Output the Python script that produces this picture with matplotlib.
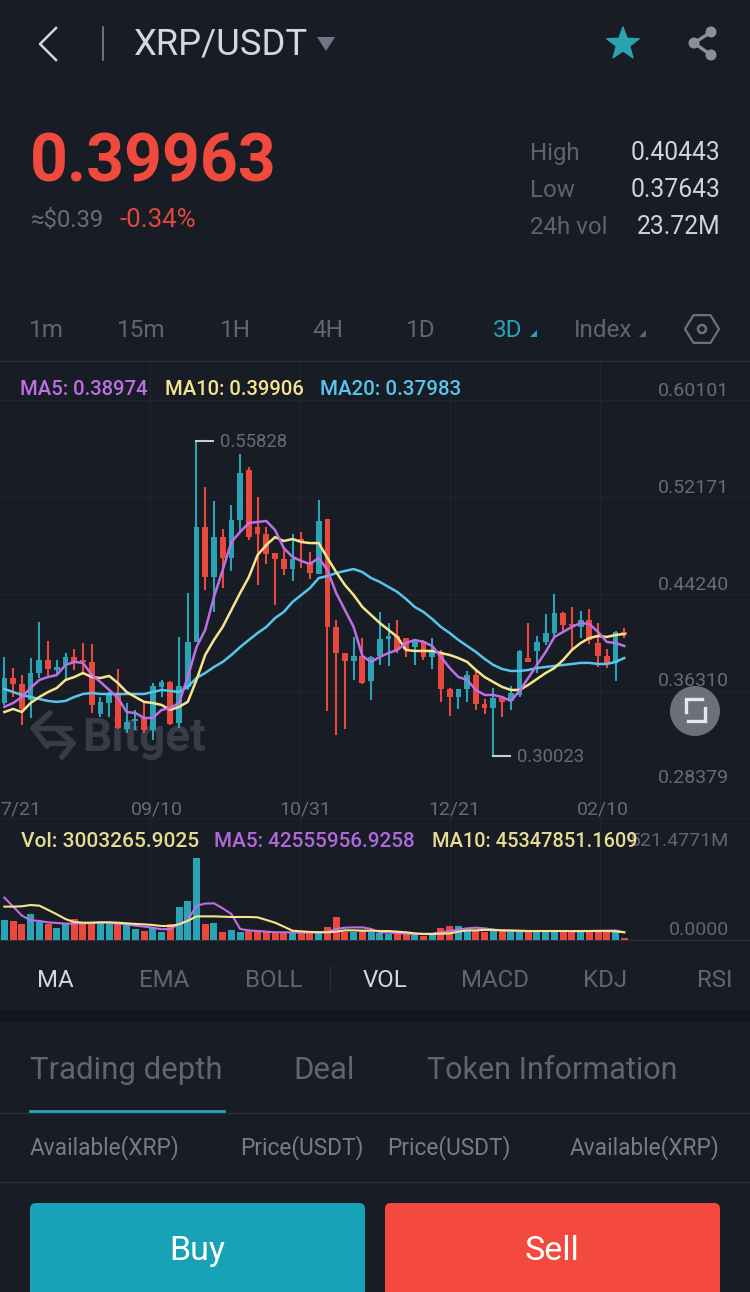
import matplotlib
matplotlib.use("Agg")
import matplotlib.pyplot as plt
from matplotlib.patches import FancyBboxPatch, Circle, Polygon
import numpy as np

plt.rcParams['font.family'] = ['Roboto', 'DejaVu Sans']

# ---------- data ----------
opens = [.3437,.3642,.3593,.3462,.3683,.3790,.3708,.3749,.3815,.3782,.3774,.3347,.3437,.3503,.3224,.3290,.3314,.3216,.3569,.3609,
         .3273,.3569,.3938,.4880,.4470,.4798,.4627,.4938,.5348,.4880,.4823,.4667,.4618,.4536,.4774,.4585,.4495,.4946,.4061,.3847,
         .3782,.3823,.3618,.3823,.3962,.3987,.3970,.3896,.3946,.3815,.3856,.3552,.3486,.3552,.3667,.3429,.3396,.3478,.3454,.3503,
         .3806,.3864,.3938,.4011,.4175,.4077,.4061,.4118,.3929,.3823,.3766,.4020]
highs = [.3815,.3724,.3667,.3806,.4102,.3946,.3790,.3847,.3880,.3929,.3921,.3486,.3527,.3716,.3437,.3380,.3437,.3601,.3626,.3618,
         .3979,.4339,.55828,.5209,.5094,.4864,.5061,.5479,.5373,.5127,.4880,.4667,.4692,.4823,.4840,.4676,.5102,.4946,.4118,.3847,
         .3979,.3970,.3823,.4184,.4093,.4118,.3970,.3962,.3954,.3970,.3872,.3560,.3552,.3700,.3700,.3470,.3560,.3478,.3577,.3872,
         .4093,.3987,.4167,.4331,.4184,.4225,.4192,.4208,.4093,.3880,.4028,.4052]
lows  = [.3421,.3486,.3257,.3314,.3642,.3642,.3675,.3626,.3708,.3667,.3355,.3322,.3322,.3224,.3191,.3216,.3191,.3134,.3486,.3257,
         .3232,.3544,.3935,.4364,.4184,.4380,.4520,.4840,.4774,.4405,.4577,.4241,.4487,.4438,.4544,.4454,.4495,.3372,.3175,.3224,
         .3626,.3593,.3462,.3749,.3741,.3847,.3815,.3749,.3790,.3716,.3446,.3331,.3388,.3446,.3380,.3347,.30023,.3322,.3380,.3486,
         .3774,.3683,.3913,.3979,.4020,.3872,.3970,.3921,.3732,.3724,.3618,.3970]
closes = [.3642,.3593,.3388,.3683,.3790,.3716,.3732,.3815,.3774,.3774,.3421,.3446,.3503,.3232,.3281,.3306,.3216,.3577,.3609,.3265,
          .3577,.3938,.4880,.4470,.4798,.4627,.4938,.5324,.4798,.4823,.4659,.4618,.4536,.4618,.4766,.4503,.4930,.4061,.3847,.3782,
          .3823,.3601,.3815,.3962,.3987,.3872,.3872,.3946,.3815,.3872,.3552,.3486,.3552,.3667,.3429,.3396,.3478,.3446,.3519,.3864,
          .3774,.3938,.4011,.4175,.4077,.4069,.4118,.3954,.3823,.3766,.4020,.39963]
ma5 = [.3405,.3437,.3486,.3560,.3626,.3650,.3667,.3749,.3774,.3766,.3667,.3609,.3544,.3478,.3363,.3355,.3314,.3314,.3380,.3396,
       .3437,.3650,.3896,.4036,.4306,.4528,.4758,.4840,.4914,.4922,.4930,.4856,.4708,.4635,.4602,.4577,.4627,.4528,.4339,.4200,
       .4061,.3823,.3774,.3815,.3847,.3872,.3929,.3954,.3938,.3905,.3815,.3724,.3650,.3626,.3544,.3503,.3503,.3486,.3454,.3536,
       .3642,.3749,.3856,.3979,.4020,.4061,.4093,.4085,.4020,.3938,.3929,.3905]
ma10 = [.3363,.3388,.3363,.3437,.3486,.3527,.3560,.3626,.3650,.3683,.3650,.3642,.3659,.3601,.3527,.3486,.3446,.3437,.3421,.3380,
        .3405,.3446,.3626,.3831,.3954,.4061,.4200,.4339,.4470,.4651,.4733,.4798,.4766,.4782,.4758,.4749,.4749,.4627,.4511,.4405,
        .4323,.4225,.4159,.4093,.4036,.3979,.3872,.3864,.3864,.3864,.3847,.3831,.3806,.3774,.3708,.3650,.3609,.3569,.3544,.3544,
        .3585,.3634,.3683,.3724,.3790,.3872,.3929,.3970,.3987,.3979,.3995,.4003]
ma20 = [.3552,.3527,.3503,.3486,.3470,.3454,.3446,.3454,.3486,.3511,.3519,.3511,.3511,.3511,.3511,.3511,.3511,.3527,.3544,.3536,
        .3527,.3569,.3642,.3683,.3732,.3774,.3831,.3896,.3954,.4011,.4061,.4134,.4184,.4266,.4323,.4380,.4462,.4479,.4503,.4520,
        .4536,.4511,.4462,.4430,.4389,.4348,.4290,.4225,.4184,.4126,.4061,.4011,.3954,.3905,.3856,.3799,.3749,.3716,.3700,.3700,
        .3708,.3724,.3732,.3741,.3749,.3757,.3766,.3766,.3757,.3757,.3774,.3806]
volume = [127,121,99.5,167,116,104,78,99.5,133,104,116,110,110,102,95,70,57,74,53,99.5,
          210,246,521.5,104,108,51,64,53,57,64,49,49,47,44,42,42,49,83,144,53,
          49,57,53,42,38,36,36,32,28,32,78,91,89,57,57,49,57,57,53,57,
          57,53,53,53,57,53,53,57,64,61,64,14]
vol_ma5 = [269,212,155,125,121,112,108,104,104,106,108,112,110,104,99.5,91,85,78,68,70,
           99.5,127,218,231,233,201,165,70,61,57,53,49,49,49,47,47,49,51,70,78,
           80,80,70,49,47,44,40,38,40,40,49,57,66,74,78,74,66,61,57,57,
           55,57,57,57,57,55,55,57,59,59,61,49]
vol_ma10 = [212,212,214,222,218,191,163,133,114,110,110,112,112,110,106,102,99.5,95,89,89,
            99.5,121,150,150,150,148,146,146,146,144,127,110,85,59,55,51,49,49,53,61,
            61,59,59,57,57,53,49,42,38,38,40,42,53,61,61,64,64,61,61,59,
            57,57,57,57,57,57,57,57,57,57,55,49]
price_ticks = [0.60101, 0.52171, 0.44240, 0.36310, 0.28379]
price_tick_labels = ["0.60101", "0.52171", "0.44240", "0.36310", "0.28379"]
date_pos = [-0.42, 17.5, 34.5, 51.5, 68.5]
date_labels = ["7/21", "09/10", "10/31", "12/21", "02/10"]
date_align = ["left", "center", "center", "center", "center"]

# ---------- palette ----------
BG = "#181c25"; GRID = "#1f242d"; LINE = "#2a2f39"; DARK = "#12151b"
TEAL = "#2aa3b5"; RED = "#e9493d"; PURPLE = "#bd6fe6"; YELLOW = "#f6e48e"; BLUE = "#57c6ee"
GREY = "#5f6673"; LIGHT = "#d3d7e0"; AXIS = "#656b77"

W, H = 750, 1292
fig = plt.figure(figsize=(W/100, H/100), dpi=100, facecolor=BG)
ui = fig.add_axes([0, 0, 1, 1], facecolor=BG)
ui.set_xlim(0, W); ui.set_ylim(H, 0); ui.axis("off")

def put(x, y, s, fontsize, **kw):
    kw.setdefault("va", "center")
    kw.setdefault("ha", "left")
    return ui.text(x, y + 0.125*fontsize, s, fontsize=fontsize, **kw)

def rect_axes(top, bottom):
    ax = fig.add_axes([0, 1-bottom/H, 1, (bottom-top)/H])
    ax.patch.set_alpha(0); ax.axis("off")
    ax.set_xlim(-0.504, 85.4)
    return ax

# ---------- ui: grid and separators ----------
for gx in [150, 300, 450, 600]:
    ui.plot([gx, gx], [361, 940], color=GRID, lw=0.8, zorder=1)
for gy in [400, 497, 594, 691, 818]:
    ui.plot([0, W], [gy, gy], color=GRID, lw=0.8, zorder=1)
for gy in [361, 940]:
    ui.plot([0, W], [gy, gy], color=LINE, lw=0.9, zorder=1)

# watermark
wm = "#383c47"
ui.plot([50, 33, 47], [713, 728, 746], color=wm, lw=4, zorder=1, solid_capstyle="round", solid_joinstyle="round")
ui.plot([33, 70], [728, 728], color=wm, lw=3.6, zorder=1, solid_capstyle="round")
ui.plot([56, 73, 62], [728, 743, 757], color=wm, lw=4, zorder=1, solid_capstyle="round", solid_joinstyle="round")
ui.plot([44, 73], [743, 743], color=wm, lw=3.6, zorder=1, solid_capstyle="round")
put(82, 734, "Bitget", 33, fontweight="bold", color=wm, zorder=1)

# header
ui.plot([56, 40, 56], [28, 44, 60], color=LIGHT, lw=1.8)
ui.plot([103, 103], [27, 60], color="#7c8290", lw=1.2)
put(134, 41, "XRP/USDT", 26.2, color=LIGHT)
ui.add_patch(Polygon([[317, 37], [335, 37], [326, 51]], closed=True, fc="#6f7787", ec="none"))
star_a = np.deg2rad(np.arange(10)*36 - 90)
star_r = np.where(np.arange(10) % 2 == 0, 17, 7)
ui.add_patch(Polygon(np.c_[623+star_r*np.cos(star_a), 44+star_r*np.sin(star_a)], closed=True, fc=TEAL, ec=TEAL, lw=1, joinstyle="round"))
sh = "#8a8f9b"
ui.plot([711, 694, 711], [32, 43, 55], color=sh, lw=2.4)
for sx, sy in [(711, 32), (694, 43), (711, 55)]:
    ui.add_patch(Circle((sx, sy), 5.5, fc=sh, ec="none"))

# price
put(30, 158, "0.39963", 47.6, fontweight="bold", color="#f04a3e")
put(31, 218, "≈$0.39", 17.2, color="#666d79")
put(119, 218, "-0.34%", 18.6, color="#e0483d")
for yy, lab, val in [(151, "High", "0.40443"), (188, "Low", "0.37643"), (225, "24h vol", "23.72M")]:
    put(530, yy, lab, 17.3, color="#5d6471")
    put(720, yy, val, 17.8, color="#cfd3dc", ha="right")

# interval tabs
for cx, lab in [(46, "1m"), (141, "15m"), (235, "1H"), (328, "4H"), (421, "1D"), (603, "Index")]:
    put(cx, 328, lab, 17.5, color=GREY, ha="center")
put(508, 328, "3D", 17.5, color=TEAL, ha="center")
ui.add_patch(Polygon([[530, 337], [537, 337], [537, 330]], closed=True, fc=TEAL, ec="none"))
ui.add_patch(Polygon([[639, 337], [646, 337], [646, 330]], closed=True, fc=GREY, ec="none"))
hex_a = np.deg2rad(np.arange(6)*60)
ui.add_patch(Polygon(np.c_[702+17*np.cos(hex_a), 329+16*np.sin(hex_a)], closed=True, fc="none", ec="#6b7280", lw=1.6, joinstyle="round"))
ui.add_patch(Circle((702, 329), 4, fc="none", ec="#6b7280", lw=1.8))

# legends
for lx, txt, col, fs in [(20, "MA5: 0.38974", PURPLE, 14.6), (165, "MA10: 0.39906", YELLOW, 14.6), (320, "MA20: 0.37983", BLUE, 14.8)]:
    put(lx, 388, txt, fs, fontweight="medium", color=col)
put(729, 839, "521.4771M", 14, color=GREY, ha="right")
for lx, txt, col, fs in [(21, "Vol: 3003265.9025", "#e7dc90", 15), (214, "MA5: 42555956.9258", "#b268dc", 14.9), (432, "MA10: 45347851.1609", "#e7dc90", 14.4)]:
    put(lx, 840, txt, fs, fontweight="medium", color=col)
put(729, 928, "0.0000", 14, color=GREY, ha="right")

# indicator tabs
for cx, lab, col in [(55, "MA", LIGHT), (164, "EMA", GREY), (274, "BOLL", GREY), (385, "VOL", LIGHT),
                     (495, "MACD", GREY), (605, "KDJ", GREY), (715, "RSI", GREY)]:
    put(cx, 978, lab, 17.3, color=col, ha="center")
ui.plot([330, 330], [966, 990], color=LINE, lw=1)
ui.fill_between([0, W], 1010, 1022, color=DARK, lw=0)

# lower tabs
for lx, lab, fs in [(30, "Trading depth", 22.4), (293, "Deal", 22.4), (427, "Token Information", 22)]:
    put(lx, 1068, lab, fs, color=GREY)
ui.plot([0, W], [1113, 1113], color=LINE, lw=0.9)
ui.plot([30, 224], [1111, 1111], color=TEAL, lw=2)
ui.plot([0, W], [1182, 1182], color=LINE, lw=0.9)
for tx, lab, ha in [(30, "Available(XRP)", "left"), (240, "Price(USDT)", "left"), (387, "Price(USDT)", "left"), (719, "Available(XRP)", "right")]:
    put(tx, 1145, lab, 16.3, color="#767d8a", ha=ha)

# buttons
for x0, x1, col, lab in [(30, 365, "#17a2b6", "Buy"), (385, 720, "#f4493e", "Sell")]:
    ui.add_patch(FancyBboxPatch((x0+6, 1209), x1-x0-12, 120, boxstyle="round,pad=6", fc=col, ec="none"))
    put((x0+x1)/2, 1248, lab, 24.5, color="white", ha="center")

# ---------- candles ----------
n = len(closes)
idx = np.arange(n)
O, Hi, Lo, C = map(np.array, (opens, highs, lows, closes))
colors = [TEAL if c > o else RED for o, c in zip(O, C)]

PX = 0.00082035
ax = rect_axes(361, 822)
ax.set_ylim(0.9204-822*PX, 0.9204-361*PX)
ax.vlines(idx, Lo, Hi, colors=colors, lw=1.5, zorder=2)
ax.bar(idx, np.maximum(np.abs(C-O), 0.0016), bottom=np.minimum(O, C), width=0.66, color=colors, lw=0, zorder=3)
ax.plot(idx, ma20, color=BLUE, lw=1.8, zorder=4)
ax.plot(idx, ma10, color=YELLOW, lw=1.8, zorder=5)
ax.plot(idx, ma5, color=PURPLE, lw=1.8, zorder=6)
ytrans = ax.get_yaxis_transform()
for t, lab in zip(price_ticks, price_tick_labels):
    ax.text(729/750, t - 2*PX, lab, transform=ytrans, fontsize=14, color=AXIS, va="center", ha="right")
for p, lab, al in zip(date_pos, date_labels, date_align):
    ax.text(p, 0.9204-809*PX, lab, fontsize=14, color=AXIS, va="center", ha=al)

# extreme markers
i_hi = int(np.argmax(Hi)); i_lo = int(np.argmin(Lo))
ax.plot([i_hi, i_hi+1.85], [Hi[i_hi]]*2, color="#c9ccd3", lw=1.5, zorder=7)
ax.text(i_hi+2.75, Hi[i_hi]-PX, f"{Hi[i_hi]:.5f}", fontsize=13.3, color=AXIS, va="center", ha="left")
ax.plot([i_lo, i_lo+1.9], [Lo[i_lo]]*2, color="#c9ccd3", lw=1.5, zorder=7)
ax.text(i_lo+2.75, Lo[i_lo]-PX, f"{Lo[i_lo]:.5f}", fontsize=13.3, color=AXIS, va="center", ha="left")

# ---------- volume ----------
vax = rect_axes(825, 941)
vax.set_ylim(-6.35, 730)
vax.bar(idx, volume, width=0.8, color=colors, lw=0, zorder=2)
vax.plot(idx, vol_ma5, color=PURPLE, lw=1.5, zorder=3)
vax.plot(idx, vol_ma10, color=YELLOW, lw=1.5, zorder=4)

# expand button on top
top = fig.add_axes([0, 0, 1, 1]); top.patch.set_alpha(0); top.axis("off")
top.set_xlim(0, W); top.set_ylim(H, 0)
top.add_patch(Circle((695, 711), 25, fc="#6c7079", ec="none"))
top.plot([686, 686, 702], [712, 699, 699], color="#e6e8ec", lw=2.4, solid_joinstyle="miter")
top.plot([688, 705, 705], [721, 721, 708], color="#e6e8ec", lw=2.4, solid_joinstyle="miter")

fig.savefig("out.png", dpi=100, facecolor=BG)
